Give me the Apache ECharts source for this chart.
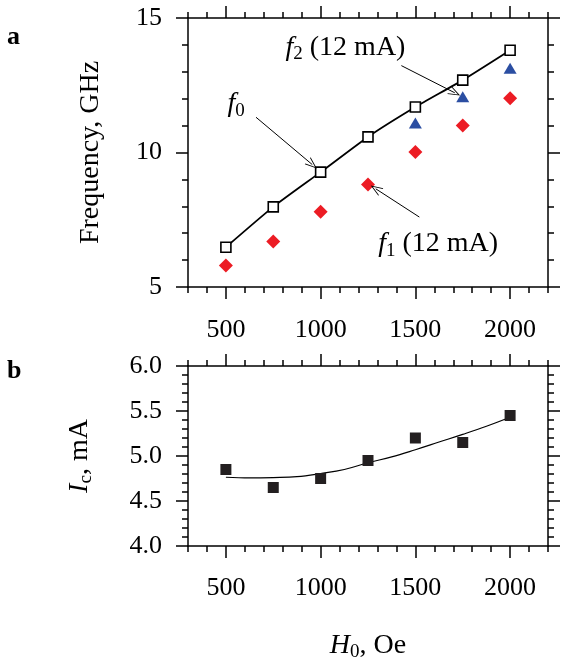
<!DOCTYPE html>
<html><head><meta charset="utf-8">
<script src="https://cdn.jsdelivr.net/npm/echarts@6/dist/echarts.min.js"></script>
<style>html,body{margin:0;padding:0;background:#fff}#c{width:566px;height:657px}</style>
</head><body><div id="c"></div>
<script>
// ---- data ----
const H = [500, 750, 1000, 1250, 1500, 1750, 2000];
const f0 = [6.48, 7.98, 9.27, 10.58, 11.69, 12.69, 13.80];
const f1 = [5.80, 6.69, 7.80, 8.81, 10.02, 11.00, 12.02];
const f2 = [null, null, null, null, 11.10, 12.07, 13.13];
const Ic = [4.85, 4.65, 4.75, 4.95, 5.20, 5.15, 5.45];
const fitH = [500, 625, 750, 875, 1000, 1125, 1250, 1375, 1500, 1625, 1750, 1875, 2000];
const fitIc = [4.764, 4.756, 4.76, 4.77, 4.805, 4.85, 4.925, 4.99, 5.07, 5.155, 5.24, 5.33, 5.43];
const xTicks = [500, 1000, 1500, 2000];
const yTicksA = [5, 10, 15];
const yTicksB = [4.0, 4.5, 5.0, 5.5, 6.0];
const noteSubs = ['0', '2', '1'];
const noteRest = ['', ' (12 mA)', ' (12 mA)'];
const noteX = [506, 812, 1301];
const noteY = [11.8, 13.91, 6.61];
const arrowFrom = [[659, 11.31], [1426, 13.23], [1521, 7.60]];
const arrowTo = [[956, 9.55], [1708, 12.22], [1291, 8.65]];

const FONT = 'Liberation Serif';
const BLACK = '#000';
const rich = {
  i: {fontStyle: 'italic', fontSize: 28, fontFamily: FONT, color: BLACK},
  s: {fontSize: 19, fontFamily: FONT, color: BLACK, padding: [14, 0, 0, 0]},
  n: {fontSize: 28, fontFamily: FONT, color: BLACK}
};
const lineSt = {color: BLACK, width: 1.5};

function xAxes(gi, margin, name, nameGap) {
  const base = {type: 'value', gridIndex: gi, min: 300, max: 2200, splitLine: {show: false}};
  return [
    Object.assign({}, base, {position: 'bottom', interval: 100,
      axisLine: {onZero: false, lineStyle: lineSt},
      axisTick: {length: 6, lineStyle: lineSt},
      axisLabel: {margin: margin, fontSize: 26, fontFamily: FONT, color: BLACK,
        formatter: v => xTicks.includes(v) ? String(v) : ''},
      name: name, nameLocation: 'middle', nameGap: nameGap,
      nameTextStyle: {fontSize: 28, fontFamily: FONT, color: BLACK, rich: rich}}),
    Object.assign({}, base, {position: 'bottom', axisLine: {show: false},
      axisTick: {customValues: xTicks, length: 12, lineStyle: lineSt}, axisLabel: {show: false}}),
    Object.assign({}, base, {position: 'top', interval: 100,
      axisLine: {onZero: false, lineStyle: lineSt},
      axisTick: {length: 6, lineStyle: lineSt}, axisLabel: {show: false}}),
    Object.assign({}, base, {position: 'top', axisLine: {show: false},
      axisTick: {customValues: xTicks, length: 12, lineStyle: lineSt}, axisLabel: {show: false}})
  ];
}
function yAxes(gi, min, max, interval, majors, fmt, name, nameGap) {
  const base = {type: 'value', gridIndex: gi, min: min, max: max, splitLine: {show: false}};
  return [
    Object.assign({}, base, {position: 'left', interval: interval,
      axisLine: {onZero: false, lineStyle: lineSt},
      axisTick: {length: 6, lineStyle: lineSt},
      axisLabel: {margin: 26, fontSize: 26, fontFamily: FONT, color: BLACK, formatter: fmt},
      name: name, nameLocation: 'middle', nameGap: nameGap,
      nameTextStyle: {fontSize: 28, fontFamily: FONT, color: BLACK, rich: rich}}),
    Object.assign({}, base, {position: 'left', axisLine: {show: false},
      axisTick: {customValues: majors, length: 12, lineStyle: lineSt}, axisLabel: {show: false}}),
    Object.assign({}, base, {position: 'right', interval: interval,
      axisLine: {onZero: false, lineStyle: lineSt},
      axisTick: {length: 6, lineStyle: lineSt}, axisLabel: {show: false}}),
    Object.assign({}, base, {position: 'right', axisLine: {show: false},
      axisTick: {customValues: majors, length: 12, lineStyle: lineSt}, axisLabel: {show: false}})
  ];
}
const isMajor = (v, majors) => majors.some(m => Math.abs(m - v) < 1e-6);

const chart = echarts.init(document.getElementById('c'), null, {renderer: 'canvas'});
const arrowPath = 'path://M5,0 L10,12 L9,12 L5,2.4 L1,12 L0,12 Z';

chart.setOption({
  animation: false,
  backgroundColor: '#fff',
  grid: [
    {left: 188, top: 18, width: 360, height: 269, containLabel: false, outerBoundsMode: 'none'},
    {left: 188, top: 366, width: 360, height: 180, containLabel: false, outerBoundsMode: 'none'}
  ],
  graphic: [
    {type: 'text', left: 7, top: 24, style: {text: 'a', font: 'bold 26px "Liberation Serif"', fill: BLACK}},
    {type: 'text', left: 7, top: 358, style: {text: 'b', font: 'bold 26px "Liberation Serif"', fill: BLACK}}
  ],
  xAxis: xAxes(0, 30, '', 0).concat(xAxes(1, 29, '{i|H}{s|0}, Oe', 83)),
  yAxis: yAxes(0, 5, 15, 1, yTicksA, v => isMajor(v, yTicksA) ? String(v) : '', 'Frequency, GHz', 83)
    .concat(yAxes(1, 4, 6, 0.1, yTicksB, v => isMajor(v, yTicksB) ? v.toFixed(1) : '', '{i|I}{s|c}, mA', 92)),
  series: [
    {type: 'line', xAxisIndex: 0, yAxisIndex: 0, data: H.map((h, i) => [h, f0[i]]),
      smooth: 0.2, symbol: 'rect', symbolSize: 10, z: 3,
      lineStyle: {color: BLACK, width: 1.8},
      itemStyle: {color: '#fff', borderColor: BLACK, borderWidth: 1.6, opacity: 1}},
    {type: 'scatter', xAxisIndex: 0, yAxisIndex: 0, data: H.map((h, i) => [h, f1[i]]),
      symbol: 'diamond', symbolSize: [14, 14], itemStyle: {color: '#ec1c24', opacity: 1}},
    {type: 'scatter', xAxisIndex: 0, yAxisIndex: 0,
      data: H.map((h, i) => [h, f2[i]]).filter(d => d[1] != null),
      symbol: 'triangle', symbolSize: [13, 11], itemStyle: {color: '#2b4ea2', opacity: 1}},
    {type: 'scatter', xAxisIndex: 0, yAxisIndex: 0, silent: true, z: 5,
      data: noteX.map((x, i) => ({
        value: [x, noteY[i]],
        label: {formatter: '{i|f}{s|' + noteSubs[i] + '}' + (noteRest[i] ? '{n|' + noteRest[i] + '}' : '')}
      })),
      symbolSize: 1, itemStyle: {color: '#fff', opacity: 0},
      label: {show: true, position: 'right', distance: 0, rich: rich, color: BLACK, opacity: 1},
      markLine: {silent: true, symbol: ['none', arrowPath], symbolSize: [9, 12],
        lineStyle: {color: BLACK, width: 1, type: 'solid', opacity: 1},
        itemStyle: {color: BLACK, opacity: 1}, label: {show: false},
        data: arrowFrom.map((a, i) => [{coord: a}, {coord: arrowTo[i]}])}},
    {type: 'line', xAxisIndex: 4, yAxisIndex: 4, data: fitH.map((h, i) => [h, fitIc[i]]),
      smooth: 0.4, symbol: 'none', lineStyle: {color: BLACK, width: 1.2}},
    {type: 'scatter', xAxisIndex: 4, yAxisIndex: 4, data: H.map((h, i) => [h, Ic[i]]),
      symbol: 'rect', symbolSize: 11, itemStyle: {color: '#231f20', opacity: 1}, z: 3}
  ]
});
</script></body></html>
